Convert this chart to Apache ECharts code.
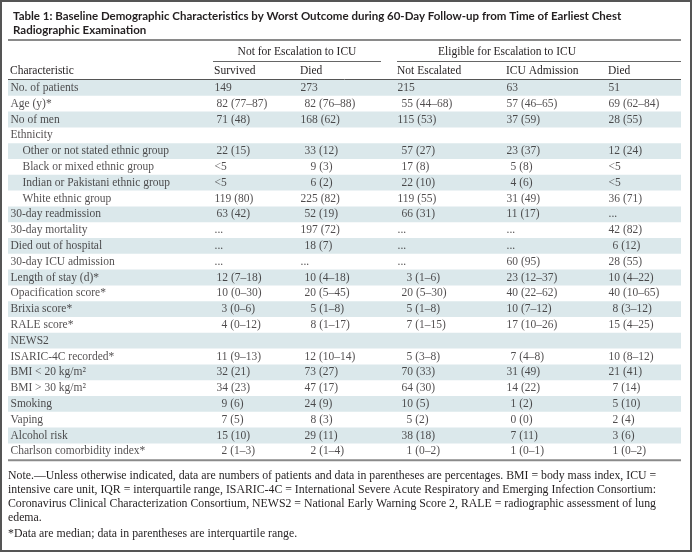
<!DOCTYPE html>
<html><head><meta charset="utf-8">
<script src="https://cdn.jsdelivr.net/npm/echarts@6/dist/echarts.min.js"></script>
<style>html,body{margin:0;padding:0;background:#fff}#c{width:692px;height:552px}</style>
</head><body><div id="c"></div>
<script>
// ---------- content ----------
const tableTitle = "Table 1: Baseline Demographic Characteristics by Worst Outcome during 60-Day Follow-up from Time of Earliest Chest\nRadiographic Examination";
const groupHeaders = ["Not for Escalation to ICU", "Eligible for Escalation to ICU"];
const columnHeaders = ["Characteristic", "Survived", "Died", "Not Escalated", "ICU Admission", "Died"];
const characteristics = ["No. of patients", "Age (y)*", "No of men", "Ethnicity",
  "Other or not stated ethnic group", "Black or mixed ethnic group", "Indian or Pakistani ethnic group", "White ethnic group",
  "30-day readmission", "30-day mortality", "Died out of hospital", "30-day ICU admission",
  "Length of stay (d)*", "Opacification score*", "Brixia score*", "RALE score*", "NEWS2",
  "ISARIC-4C recorded*", "BMI < 20 kg/m²", "BMI > 30 kg/m²", "Smoking", "Vaping", "Alcohol risk",
  "Charlson comorbidity index*"];
const subgroupRows = ["Other or not stated ethnic group", "Black or mixed ethnic group", "Indian or Pakistani ethnic group", "White ethnic group"];
const survived = ["149", "82 (77–87)", "71 (48)", "", "22 (15)", "<5", "<5", "119 (80)", "63 (42)", "...", "...", "...",
  "12 (7–18)", "10 (0–30)", "3 (0–6)", "4 (0–12)", "", "11 (9–13)", "32 (21)", "34 (23)", "9 (6)", "7 (5)", "15 (10)", "2 (1–3)"];
const diedNotEscalation = ["273", "82 (76–88)", "168 (62)", "", "33 (12)", "9 (3)", "6 (2)", "225 (82)", "52 (19)", "197 (72)", "18 (7)", "...",
  "10 (4–18)", "20 (5–45)", "5 (1–8)", "8 (1–17)", "", "12 (10–14)", "73 (27)", "47 (17)", "24 (9)", "8 (3)", "29 (11)", "2 (1–4)"];
const notEscalated = ["215", "55 (44–68)", "115 (53)", "", "57 (27)", "17 (8)", "22 (10)", "119 (55)", "66 (31)", "...", "...", "...",
  "3 (1–6)", "20 (5–30)", "5 (1–8)", "7 (1–15)", "", "5 (3–8)", "70 (33)", "64 (30)", "10 (5)", "5 (2)", "38 (18)", "1 (0–2)"];
const icuAdmission = ["63", "57 (46–65)", "37 (59)", "", "23 (37)", "5 (8)", "4 (6)", "31 (49)", "11 (17)", "...", "...", "60 (95)",
  "23 (12–37)", "40 (22–62)", "10 (7–12)", "17 (10–26)", "", "7 (4–8)", "31 (49)", "14 (22)", "1 (2)", "0 (0)", "7 (11)", "1 (0–1)"];
const diedEligible = ["51", "69 (62–84)", "28 (55)", "", "12 (24)", "<5", "<5", "36 (71)", "...", "42 (82)", "6 (12)", "28 (55)",
  "10 (4–22)", "40 (10–65)", "8 (3–12)", "15 (4–25)", "", "10 (8–12)", "21 (41)", "7 (14)", "5 (10)", "2 (4)", "3 (6)", "1 (0–2)"];
const notes = [
  "Note.—Unless otherwise indicated, data are numbers of patients and data in parentheses are percentages. BMI = body mass index, ICU =",
  "intensive care unit, IQR = interquartile range, ISARIC-4C = International Severe Acute Respiratory and Emerging Infection Consortium:",
  "Coronavirus Clinical Characterization Consortium, NEWS2 = National Early Warning Score 2, RALE = radiographic assessment of lung",
  "edema."
];
const footnote = "*Data are median; data in parentheses are interquartile range.";

// ---------- layout ----------
const TXT = '#231f20';
const SERIF = '"Liberation Serif", "DejaVu Serif", serif';
const FS = 11.5;
const NOTE_FS = 11.8;
const tableLeft = 8, tableRight = 681;
const colX = [10, 214, 300, 397, 506, 608];
const bodyTop = 80, rowH = 15.8;
const nRows = characteristics.length;
const bodyH = nRows * rowH;
const padTwo = [0, 2, 4, 4, 0, 0];
const padOne = [0, 7, 10, 9, 4, 4];

const columns = [characteristics, survived, diedNotEscalation, notEscalated, icuAdmission, diedEligible];

function padFor(c, text) {
  if (c === 0) return subgroupRows.indexOf(text) >= 0 ? 12 : 0;
  const m = text.match(/^\d+/);
  if (!m) return 0;
  if (m[0].length === 1) return padOne[c];
  if (m[0].length === 2) return padTwo[c];
  return 0;
}

const grids = [{ left: tableLeft, width: tableRight - tableLeft, top: bodyTop, height: bodyH }];
const xAxes = [{ gridIndex: 0, type: 'value', min: 0, max: 1, show: false }];
const yAxes = [{
  gridIndex: 0, type: 'category', data: characteristics, inverse: true,
  axisLine: { show: false }, axisTick: { show: false }, axisLabel: { show: false },
  splitLine: { show: false },
  splitArea: { show: true, interval: 0, areaStyle: { color: ['#dbe8eb', 'rgba(255,255,255,0)'] } }
}];
const series = [];
columns.forEach((col, c) => {
  const gi = c + 1;
  grids.push({ left: colX[c], width: 40, top: bodyTop, height: bodyH });
  xAxes.push({ gridIndex: gi, type: 'value', min: 0, max: 1, show: false });
  yAxes.push({ gridIndex: gi, type: 'category', data: characteristics, inverse: true, show: false });
  series.push({
    type: 'scatter', xAxisIndex: gi, yAxisIndex: gi, symbolSize: 1, silent: true,
    itemStyle: { color: 'rgba(0,0,0,0)' },
    label: {
      show: true, position: 'right', distance: 0, align: 'left', verticalAlign: 'middle',
      color: TXT, fontFamily: SERIF, fontSize: FS,
      formatter: p => p.value[2]
    },
    data: col.map((t, j) => t === '' ? null : { value: [0, j, t], label: { padding: [0, 0, 0, padFor(c, t)] } })
      .filter(d => d !== null)
  });
});

function txt(x, y, text, extra) {
  return { type: 'text', x: x, y: y, silent: true,
    style: Object.assign({ text: text, fill: TXT, font: FS + 'px ' + SERIF, verticalAlign: 'middle', align: 'left' }, extra || {}) };
}
function hline(x1, x2, y, w, color) {
  return { type: 'line', silent: true, shape: { x1: x1, y1: y, x2: x2, y2: y }, style: { stroke: color, lineWidth: w } };
}

const graphics = [
  { type: 'rect', silent: true, shape: { x: 1, y: 1, width: 690, height: 550 }, style: { fill: 'none', stroke: '#555', lineWidth: 2 } },
  hline(tableLeft, tableRight, 40, 2, '#8a8a8a'),
  txt(297, 52, groupHeaders[0], { align: 'center' }),
  txt(507, 52, groupHeaders[1], { align: 'center' }),
  hline(213, 381, 61.5, 1, '#666'),
  hline(397, tableRight, 61.5, 1, '#666'),
  hline(tableLeft, tableRight, bodyTop - 0.5, 1, '#555'),
  hline(tableLeft, tableRight, bodyTop + bodyH + 1, 2, '#8a8a8a')
];
columnHeaders.forEach((h, c) => graphics.push(txt(colX[c], 70.5, h)));
const noteFont = NOTE_FS + 'px ' + SERIF;
notes.forEach((n, i) => graphics.push(txt(tableLeft, 476 + i * 14, n, { font: noteFont })));
graphics.push(txt(tableLeft, 534, footnote, { font: noteFont }));

const chart = echarts.init(document.getElementById('c'), null, { renderer: 'canvas' });
chart.setOption({
  animation: false,
  backgroundColor: '#fff',
  title: {
    text: tableTitle, left: tableLeft, top: 4,
    textStyle: { fontFamily: 'Lato, "Liberation Sans", sans-serif', fontWeight: 'bold', fontSize: 11.5, lineHeight: 14, color: TXT }
  },
  grid: grids, xAxis: xAxes, yAxis: yAxes, series: series,
  graphic: graphics
});
</script></body></html>
